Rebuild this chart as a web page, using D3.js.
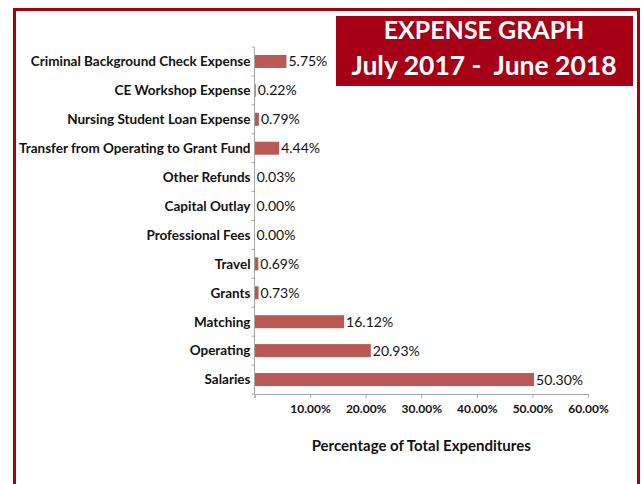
<!DOCTYPE html>
<html>
<head>
<meta charset="utf-8">
<script src="https://cdn.jsdelivr.net/npm/d3@7"></script>
<style>
  body { margin: 0; background: #fff; }
  svg { display: block; font-family: Lato, "Open Sans", sans-serif; }
</style>
</head>
<body>
<div id="chart"></div>
<script>
// expense categories, top to bottom as in the chart
var categories = [
  "Criminal Background Check Expense",
  "CE Workshop Expense",
  "Nursing Student Loan Expense",
  "Transfer from Operating to Grant Fund",
  "Other Refunds",
  "Capital Outlay",
  "Professional Fees",
  "Travel",
  "Grants",
  "Matching",
  "Operating",
  "Salaries"
];
// percent of total expenditures
var percents = [5.75, 0.22, 0.79, 4.44, 0.03, 0.00, 0.00, 0.69, 0.73, 16.12, 20.93, 50.30];
var xTicks = [10, 20, 30, 40, 50, 60];
var titleLines = ["EXPENSE GRAPH", "July 2017 -  June 2018"];

var W = 644, H = 484;
var margin = {top: 47, right: 56, bottom: 90, left: 254.5},
    width = W - margin.left - margin.right,
    height = H - margin.top - margin.bottom;

var svg = d3.select("#chart").append("svg")
    .attr("width", W)
    .attr("height", H);

// red frame round the page
svg.append("path")
    .attr("d", "M14.5,484 V9.5 H638.5 V484")
    .attr("fill", "none")
    .attr("stroke", "#a50016")
    .attr("stroke-width", 3);

var g = svg.append("g")
    .attr("transform", "translate(" + margin.left + "," + margin.top + ")");

var x = d3.scaleLinear().domain([0, 60]).range([0, width]);
var y = d3.scaleBand().domain(categories).range([0, height]).paddingInner(0.55).paddingOuter(0.275);

var data = categories.map(function(c, i) { return {name: c, value: percents[i]}; });

// bars
g.selectAll(".bar")
    .data(data)
    .enter().append("rect")
    .attr("class", "bar")
    .attr("x", 0)
    .attr("y", d => y(d.name))
    .attr("width", d => x(d.value))
    .attr("height", y.bandwidth())
    .attr("fill", "#b95855");

// value labels
g.selectAll(".val")
    .data(data)
    .enter().append("text")
    .attr("class", "val")
    .attr("x", d => x(d.value) + 2)
    .attr("y", d => y(d.name) + y.bandwidth() / 2)
    .attr("dy", "0.36em")
    .style("font-size", "14px")
    .attr("fill", "#111")
    .text(d => d.value.toFixed(2) + "%");

// y axis with small ticks between categories
var yLine = g.append("g").attr("class", "y-axis");
yLine.append("line")
    .attr("x1", 0).attr("x2", 0)
    .attr("y1", 0).attr("y2", height)
    .attr("stroke", "#a6a6a6");
yLine.selectAll(".ytick")
    .data(d3.range(categories.length + 1))
    .enter().append("line")
    .attr("x1", -3).attr("x2", 0)
    .attr("y1", i => i * height / categories.length)
    .attr("y2", i => i * height / categories.length)
    .attr("stroke", "#a6a6a6");

// category labels
g.selectAll(".cat")
    .data(data)
    .enter().append("text")
    .attr("class", "cat")
    .attr("x", -4)
    .attr("y", d => y(d.name) + y.bandwidth() / 2)
    .attr("dy", "0.36em")
    .attr("text-anchor", "end")
    .style("font-size", "13.5px")
    .style("font-weight", "bold")
    .attr("fill", "#111")
    .text(d => d.name);

// x axis
var xAxis = g.append("g")
    .attr("transform", "translate(0," + height + ")")
    .call(d3.axisBottom(x).tickValues([0].concat(xTicks)).tickSize(4)
      .tickFormat(d => d === 0 ? "" : d.toFixed(2) + "%"));
xAxis.select(".domain").attr("stroke", "#a6a6a6");
xAxis.selectAll("line").attr("stroke", "#a6a6a6");
xAxis.selectAll("text")
    .attr("y", 10)
    .attr("fill", "#111")
    .style("font-family", "Lato, sans-serif")
    .style("font-size", "12px")
    .style("font-weight", "bold");

g.append("text")
    .attr("x", width / 2)
    .attr("y", height + 57)
    .attr("text-anchor", "middle")
    .style("font-size", "15px")
    .style("font-weight", "bold")
    .attr("fill", "#111")
    .text("Percentage of Total Expenditures");

// title box
svg.append("rect")
    .attr("x", 336).attr("y", 16)
    .attr("width", 297).attr("height", 70)
    .attr("fill", "#a50016");
svg.append("text")
    .attr("x", 484).attr("y", 39)
    .attr("text-anchor", "middle")
    .attr("fill", "#fff")
    .style("font-size", "25px")
    .style("font-weight", "bold")
    .text(titleLines[0]);
svg.append("text")
    .attr("x", 484).attr("y", 75)
    .attr("text-anchor", "middle")
    .attr("fill", "#fff")
    .style("white-space", "pre")
    .style("font-size", "26.5px")
    .style("font-weight", "bold")
    .text(titleLines[1]);
</script>
</body>
</html>
